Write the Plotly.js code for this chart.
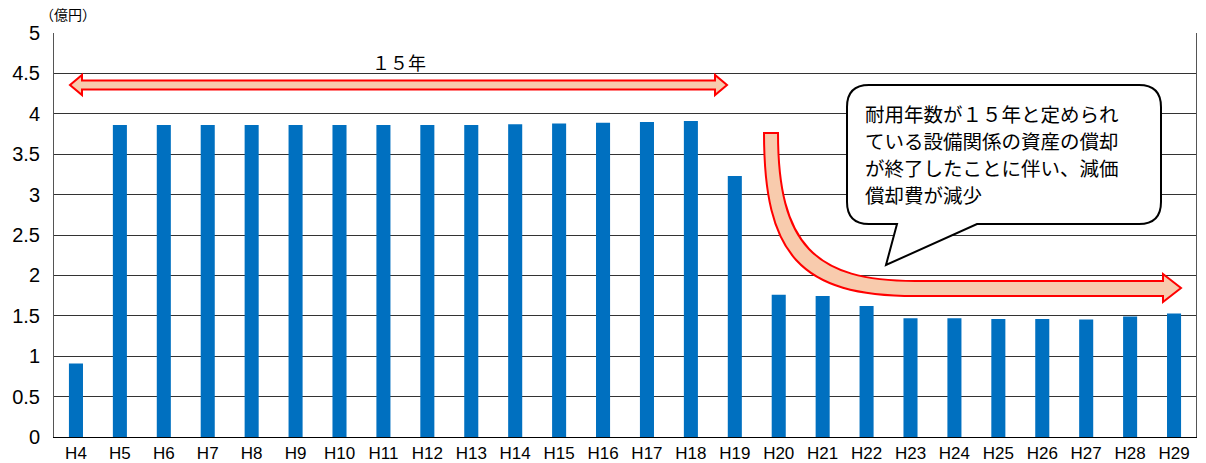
<!DOCTYPE html>
<html>
<head>
<meta charset="utf-8">
<script src="https://cdn.plot.ly/plotly-3.0.1.min.js"></script>
<style>body{margin:0;background:#fff}#chart{width:1206px;height:463px}</style>
</head>
<body>
<div id="chart"></div>
<script>
const categories = ["H4","H5","H6","H7","H8","H9","H10","H11","H12","H13","H14","H15","H16","H17","H18","H19","H20","H21","H22","H23","H24","H25","H26","H27","H28","H29"];
const values = [0.91,3.86,3.86,3.86,3.86,3.86,3.86,3.86,3.86,3.86,3.87,3.88,3.89,3.90,3.91,3.23,1.76,1.745,1.62,1.47,1.47,1.46,1.46,1.455,1.49,1.53];
const yTicks = [0,0.5,1,1.5,2,2.5,3,3.5,4,4.5,5];
const yTickText = ["0","0.5","1","1.5","2","2.5","3","3.5","4","4.5","5"];
const unitLabel = "（億円）";
const spanLabel = "１５年";
const calloutLines = ["耐用年数が１５年と定められ","ている設備関係の資産の償却","が終了したことに伴い、減価","償却費が減少"];

const W = 1206, H = 463, L = 54, R = 10, T = 33, B = 26;
const pw = W - L - R, ph = H - T - B;
const px = x => ((x - L) / pw).toFixed(5);
const py = y => ((H - B - y) / ph).toFixed(5);
const P = (x, y) => px(x) + "," + py(y);

const jp = '"Noto Sans CJK JP", "Noto Sans", sans-serif';
const lat = '"Liberation Sans", Arial, sans-serif';

// double arrow (pixel geometry converted to paper coords)
const ay = 85, sh = 4.5, hh = 10, hl = 12, x1 = 70, x2 = 727;
const dbl = "M" + P(x1, ay) + " L" + P(x1 + hl, ay - hh) + " L" + P(x1 + hl, ay - sh) +
  " L" + P(x2 - hl, ay - sh) + " L" + P(x2 - hl, ay - hh) + " L" + P(x2, ay) +
  " L" + P(x2 - hl, ay + hh) + " L" + P(x2 - hl, ay + sh) + " L" + P(x1 + hl, ay + sh) +
  " L" + P(x1 + hl, ay + hh) + " Z";

// curved arrow
const curved = "M" + P(764, 133) + " C" + P(764, 255) + " " + P(800, 296) + " " + P(915, 296) +
  " L" + P(1163, 296) + " L" + P(1163, 302) + " L" + P(1181, 288) + " L" + P(1163, 274) +
  " L" + P(1163, 281) + " L" + P(915, 281) + " C" + P(815, 281) + " " + P(778, 245) + " " + P(778, 133) + " Z";

// callout
const bx1 = 847, bx2 = 1161, by1 = 85, by2 = 224, r = 22;
const callout = "M" + P(bx1 + r, by1) + " L" + P(bx2 - r, by1) +
  " Q" + P(bx2, by1) + " " + P(bx2, by1 + r) + " L" + P(bx2, by2 - r) +
  " Q" + P(bx2, by2) + " " + P(bx2 - r, by2) + " L" + P(977, by2) + " L" + P(886, 265) +
  " L" + P(897, by2) + " L" + P(bx1 + r, by2) +
  " Q" + P(bx1, by2) + " " + P(bx1, by2 - r) + " L" + P(bx1, by1 + r) +
  " Q" + P(bx1, by1) + " " + P(bx1 + r, by1) + " Z";

const data = [{
  type: "bar",
  x: categories,
  y: values,
  marker: {color: "#0070C0", line: {width: 0}},
  hoverinfo: "skip"
}];

const annotations = [
  {xref: "paper", yref: "paper", x: px(68), y: py(14), text: unitLabel, showarrow: false,
   xanchor: "center", yanchor: "middle", font: {family: jp, size: 14, color: "#000"}},
  {xref: "paper", yref: "paper", x: px(399), y: py(62), text: spanLabel, showarrow: false,
   xanchor: "center", yanchor: "middle", font: {family: jp, size: 18, color: "#000"}}
];
calloutLines.forEach((t, i) => {
  annotations.push({xref: "paper", yref: "paper", x: px(863), y: py(113 + i * 27.3), text: t,
    showarrow: false, xanchor: "left", yanchor: "middle",
    font: {family: jp, size: 19.5, color: "#000"}});
});

const layout = {
  width: W, height: H,
  margin: {l: L, r: R, t: T, b: B, pad: 0},
  paper_bgcolor: "#fff", plot_bgcolor: "#fff",
  showlegend: false,
  bargap: 0.68,
  xaxis: {
    type: "category",
    showline: true, linecolor: "#000", linewidth: 1,
    ticks: "", showgrid: false,
    tickfont: {family: lat, size: 17, color: "#000"},
    ticklabelstandoff: 1
  },
  yaxis: {
    range: [0, 5], tickvals: yTicks, ticktext: yTickText,
    showline: true, linecolor: "#555", linewidth: 1, mirror: true,
    showgrid: true, gridcolor: "#333", gridwidth: 1, zeroline: false,
    ticks: "",
    tickfont: {family: lat, size: 20, color: "#000"},
    ticklabelstandoff: 9
  },
  shapes: [
    {type: "path", xref: "paper", yref: "paper", path: dbl, fillcolor: "#F8CBAD", line: {color: "#FF0000", width: 2}},
    {type: "path", xref: "paper", yref: "paper", path: curved, fillcolor: "#F8CBAD", line: {color: "#FF0000", width: 2}},
    {type: "path", xref: "paper", yref: "paper", path: callout, fillcolor: "#fff", line: {color: "#000", width: 2}}
  ],
  annotations: annotations
};

Plotly.newPlot("chart", data, layout, {displayModeBar: false, staticPlot: true});
</script>
</body>
</html>
